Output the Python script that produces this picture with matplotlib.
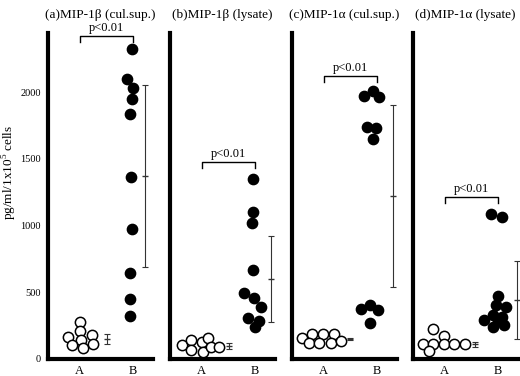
import matplotlib.pyplot as plt

plt.rcParams['font.family'] = ['Liberation Serif', 'DejaVu Serif']
plt.rcParams['mathtext.fontset'] = 'custom'
plt.rcParams['mathtext.rm'] = 'Liberation Serif'

titles = ["(a)MIP-1β (cul.sup.)", "(b)MIP-1β (lysate)",
          "(c)MIP-1α (cul.sup.)", "(d)MIP-1α (lysate)"]
groups = ["A", "B"]

# group A (open circles)
a_vals = [
    [277, 210, 165, 180, 142, 105, 112, 82],
    [105, 142, 67, 127, 52, 157, 90, 90],
    [157, 187, 120, 187, 120, 187, 120, 135],
    [225, 172, 112, 112, 60, 112, 112, 112],
]
a_jit = [
    [0, 0, -0.21, 0.23, 0.02, -0.15, 0.25, 0.07],
    [-0.36, -0.19, -0.19, 0, 0.02, 0.11, 0.17, 0.32],
    [-0.40, -0.21, -0.28, -0.02, -0.09, 0.19, 0.13, 0.32],
    [-0.21, -0.02, -0.40, -0.21, -0.30, -0.02, 0.17, 0.38],
]
# group B (filled circles)
b_vals = [
    [2322, 2097, 2030, 1948, 1835, 1363, 974, 644, 449, 322],
    [1348, 1101, 1019, 667, 494, 457, 390, 307, 285, 240],
    [1970, 2007, 1963, 1738, 1730, 1648, 375, 404, 367, 270],
    [1086, 1064, 472, 404, 390, 292, 330, 292, 255, 240, 315],
]
b_jit = [
    [-0.02, -0.12, 0, -0.02, -0.06, -0.04, -0.02, -0.06, -0.06, -0.06],
    [-0.04, -0.04, -0.06, -0.04, -0.21, -0.02, 0.11, -0.13, 0.08, 0],
    [-0.25, -0.08, 0.04, -0.19, -0.02, -0.08, -0.30, -0.13, 0.02, -0.13],
    [-0.13, 0.08, 0, -0.04, 0.15, -0.26, -0.09, 0, 0.11, -0.09, 0.08],
]
# mean and SD
a_mean = [150, 100, 150, 110]
a_sd = [34, 22, 10, 18]
b_mean = [1370, 600, 1220, 440]
b_sd = [680, 320, 682, 292]
a_err_x = [0.52, 0.52, 0.49, 0.57]
b_err_x = [0.22, 0.30, 0.30, 0.35]
# significance bracket heights
p_text = "p<0.01"
p_y = [2420, 1476, 2120, 1213]

fig = plt.figure(figsize=(5.2, 3.76), dpi=100)
lefts = [48, 170, 292, 413]
for i in range(4):
    ax = fig.add_axes([lefts[i] / 520, 17 / 376, 105 / 520, 326 / 376])
    ax.set_xlim(0.41, 2.37)
    ax.set_ylim(0, 2442)
    ax.scatter([1 + j for j in a_jit[i]], a_vals[i], s=55, facecolor='white',
               edgecolor='black', linewidth=1.1, zorder=3, clip_on=False)
    ax.scatter([2 + j for j in b_jit[i]], b_vals[i], s=55, color='black',
               zorder=3, clip_on=False)
    for x, m, sd in [(1 + a_err_x[i], a_mean[i], a_sd[i]),
                     (2 + b_err_x[i], b_mean[i], b_sd[i])]:
        ax.errorbar(x, m, yerr=sd, fmt='_', color='#333333', ms=5,
                    elinewidth=0.8, capsize=2.5, capthick=0.8, clip_on=False)
    y = p_y[i]
    ax.plot([1, 1, 2, 2], [y - 45, y, y, y - 45], color='black', lw=1.0,
            clip_on=False)
    ax.text(1.5, y + 15, p_text, ha='center', va='bottom', fontsize=9)
    ax.set_title(titles[i], fontsize=9.5, pad=11)
    ax.set_xticks([1, 2])
    ax.set_xticklabels(groups, fontsize=9)
    ax.spines['top'].set_visible(False)
    ax.spines['right'].set_visible(False)
    ax.spines['left'].set_linewidth(3)
    ax.spines['bottom'].set_linewidth(3)
    ax.spines['bottom'].set_capstyle('projecting')
    ax.tick_params(length=0, pad=4)
    if i == 0:
        ax.set_yticks([0, 500, 1000, 1500, 2000])
        ax.tick_params(axis='y', labelsize=7.5, pad=5)
    else:
        ax.set_yticks([])

fig.text(10 / 520, 1 - 172 / 376, "pg/ml/1x10$^{5}$ cells", rotation=90,
         ha='center', va='center', fontsize=9.5)

fig.savefig("out.png", dpi=100)
